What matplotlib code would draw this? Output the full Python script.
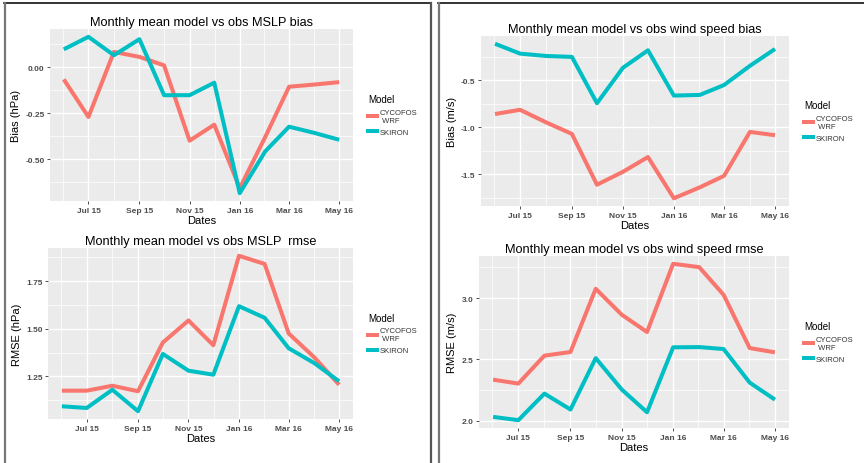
import matplotlib
matplotlib.use("Agg")
import matplotlib.pyplot as plt
import matplotlib.dates as mdates
from matplotlib.lines import Line2D
import numpy as np
import datetime as dt

plt.rcParams['font.family'] = ['Liberation Sans', 'DejaVu Sans']

dates = [dt.date(2015, 6, 1), dt.date(2015, 7, 1), dt.date(2015, 8, 1), dt.date(2015, 9, 1),
         dt.date(2015, 10, 1), dt.date(2015, 11, 1), dt.date(2015, 12, 1), dt.date(2016, 1, 1),
         dt.date(2016, 2, 1), dt.date(2016, 3, 1), dt.date(2016, 4, 1), dt.date(2016, 5, 1)]
xtick_dates = [dt.date(2015, 7, 1), dt.date(2015, 9, 1), dt.date(2015, 11, 1),
               dt.date(2016, 1, 1), dt.date(2016, 3, 1), dt.date(2016, 5, 1)]
xtick_labels = ["Jul 15", "Sep 15", "Nov 15", "Jan 16", "Mar 16", "May 16"]

series_names = ["CYCOFOS\n WRF", "SKIRON"]

mslp_bias_wrf = [-0.067, -0.271, 0.082, 0.055, 0.009, -0.400, -0.313, -0.658, -0.38, -0.107, -0.095, -0.082]
mslp_bias_skiron = [0.096, 0.164, 0.064, 0.151, -0.153, -0.153, -0.085, -0.685, -0.458, -0.324, -0.358, -0.395]

mslp_rmse_wrf = [1.175, 1.175, 1.201, 1.172, 1.428, 1.544, 1.414, 1.884, 1.841, 1.476, 1.35, 1.206]
mslp_rmse_skiron = [1.093, 1.084, 1.180, 1.067, 1.368, 1.280, 1.259, 1.619, 1.558, 1.398, 1.32, 1.224]

wind_bias_wrf = [-0.861, -0.816, -0.949, -1.072, -1.612, -1.475, -1.318, -1.756, -1.640, -1.518, -1.051, -1.086]
wind_bias_skiron = [-0.114, -0.219, -0.244, -0.254, -0.746, -0.370, -0.184, -0.665, -0.658, -0.553, -0.349, -0.170]

wind_rmse_wrf = [2.334, 2.302, 2.530, 2.560, 3.076, 2.864, 2.723, 3.280, 3.253, 3.027, 2.592, 2.557]
wind_rmse_skiron = [2.030, 2.003, 2.220, 2.090, 2.510, 2.253, 2.068, 2.598, 2.600, 2.584, 2.310, 2.171]

COL_WRF = "#F8766D"
COL_SKI = "#00BFC4"
BG = "#EBEBEB"

fig = plt.figure(figsize=(8.64, 4.64), dpi=100)
W, H = 864.0, 464.0

def px_axes(x0, y0, x1, y1):
    return fig.add_axes([x0 / W, 1 - y1 / H, (x1 - x0) / W, (y1 - y0) / H])

xnum = mdates.date2num(dates)
xr = xnum[-1] - xnum[0]
xlim = (xnum[0] - 0.05 * xr, xnum[-1] + 0.05 * xr)
xt = mdates.date2num(xtick_dates)
xminor = [(xt[i] + xt[i + 1]) / 2 for i in range(len(xt) - 1)]
xminor = [xt[0] - (xt[1] - xt[0]) / 2] + xminor

def draw(ax, wrf, ski, yticks, ylabels, title, ylabel):
    ax.set_facecolor(BG)
    for s in ax.spines.values():
        s.set_visible(False)
    allv = np.array(list(wrf) + list(ski))
    lo, hi = allv.min(), allv.max()
    r = hi - lo
    ax.set_ylim(lo - 0.05 * r, hi + 0.05 * r)
    ax.set_xlim(*xlim)
    step = yticks[1] - yticks[0]
    ymin_ticks = [yticks[0] - step / 2] + [t + step / 2 for t in yticks]
    for m in ymin_ticks:
        ax.axhline(m, color="white", lw=0.5, zorder=0)
    for t in yticks:
        ax.axhline(t, color="white", lw=1.0, zorder=0)
    for m in xminor:
        ax.axvline(m, color="white", lw=0.5, zorder=0)
    for t in xt:
        ax.axvline(t, color="white", lw=1.0, zorder=0)
    ax.plot(xnum, wrf, color=COL_WRF, lw=2.9, solid_capstyle="butt", zorder=3)
    ax.plot(xnum, ski, color=COL_SKI, lw=2.9, solid_capstyle="butt", zorder=3)
    ax.set_xticks(xt)
    ax.set_xticklabels(xtick_labels, fontsize=6, fontweight="bold", color="#4D4D4D")
    ax.set_yticks(yticks)
    ax.set_yticklabels(ylabels, fontsize=6, fontweight="bold", color="#4D4D4D")
    ax.tick_params(length=2.5, width=0.6, color="#333333", pad=1.5)
    ax.set_title(title, fontsize=9.2, pad=3)
    ax.set_xlabel("Dates", fontsize=8, labelpad=1)
    ax.set_ylabel(ylabel, fontsize=8, labelpad=3)
    handles = [Line2D([0], [0], color=COL_WRF, lw=2.9), Line2D([0], [0], color=COL_SKI, lw=2.9)]
    leg = ax.legend(handles, series_names, title="Model", loc="center left",
                    bbox_to_anchor=(1.04, 0.5), frameon=False, fontsize=5.5,
                    title_fontsize=7, handlelength=1.1, handletextpad=0.4,
                    labelspacing=0.6, borderaxespad=0.0)
    leg._legend_box.align = "left"
    for txt in leg.get_texts():
        txt.set_color("#333333")

ax1 = px_axes(50, 30, 353, 202)
draw(ax1, mslp_bias_wrf, mslp_bias_skiron, [-0.5, -0.25, 0.0],
     ["-0.50", "-0.25", "0.00"], "Monthly mean model vs obs MSLP bias", "Bias (hPa)")

ax2 = px_axes(48, 249, 353, 420)
draw(ax2, mslp_rmse_wrf, mslp_rmse_skiron, [1.25, 1.5, 1.75],
     ["1.25", "1.50", "1.75"], "Monthly mean model vs obs MSLP  rmse", "RMSE (hPa)")

ax3 = px_axes(481, 37, 789, 207)
draw(ax3, wind_bias_wrf, wind_bias_skiron, [-1.5, -1.0, -0.5],
     ["-1.5", "-1.0", "-0.5"], "Monthly mean model vs obs wind speed bias", "Bias (m/s)")

ax4 = px_axes(479, 257, 789, 429)
draw(ax4, wind_rmse_wrf, wind_rmse_skiron, [2.0, 2.5, 3.0],
     ["2.0", "2.5", "3.0"], "Monthly mean model vs obs wind speed rmse", "RMSE (m/s)")

# frame borders
fig.add_artist(Line2D([4 / W, 431 / W], [1 - 4 / H, 1 - 4 / H], color="#111111", lw=1.2))
fig.add_artist(Line2D([5 / W, 5 / W], [0, 1 - 4 / H], color="#777777", lw=1.6))
fig.add_artist(Line2D([431 / W, 431 / W], [0, 1 - 4 / H], color="#555555", lw=1.6))
fig.add_artist(Line2D([438 / W, 864 / W], [1 - 4 / H, 1 - 4 / H], color="#111111", lw=1.2))
fig.add_artist(Line2D([439 / W, 439 / W], [0, 1 - 4 / H], color="#777777", lw=1.6))

fig.savefig("out.png", dpi=100)
